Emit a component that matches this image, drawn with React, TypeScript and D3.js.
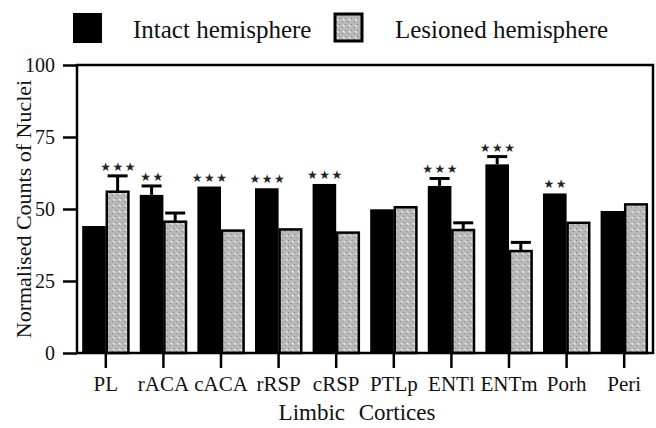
import React, { useEffect, useRef } from "react";
import * as d3 from "d3";

const categories = ["PL", "rACA", "cACA", "rRSP", "cRSP", "PTLp", "ENTl", "ENTm", "Porh", "Peri"];
const intact = [44.1, 54.9, 57.8, 57.2, 58.7, 49.9, 58.0, 65.5, 55.4, 49.3];
const lesioned = [56.0, 45.6, 42.5, 42.9, 41.8, 50.6, 42.7, 35.4, 45.2, 51.6];
const intactErr = [null, 3.1, null, null, null, null, 2.6, 2.7, null, null];
const lesionedErr = [5.5, 3.0, null, null, null, null, 2.5, 3.0, null, null];
const stars = ["***", "**", "***", "***", "***", "", "***", "***", "**", ""];
const yTicks = [0, 25, 50, 75, 100];

const W = 656;
const H = 428;
const LEFT = 77;
const RIGHT = 653;
const TOP = 65;
const BOTTOM = 353;
const FONT = "Liberation Serif";

const App = () => {
  const svgRef = useRef(null);

  useEffect(() => {
    const svg = d3.select(svgRef.current);
    svg.selectAll("*").remove();

    // hatch for the lesioned bars
    const pat = svg
      .append("defs")
      .append("pattern")
      .attr("id", "hatch")
      .attr("patternUnits", "userSpaceOnUse")
      .attr("width", 6)
      .attr("height", 6);
    pat.append("rect").attr("width", 6).attr("height", 6).attr("fill", "#b8b8b8");
    pat.append("rect").attr("x", 0).attr("y", 3).attr("width", 1).attr("height", 1).attr("fill", "#858585");
    pat.append("rect").attr("x", 3).attr("y", 0).attr("width", 1).attr("height", 1).attr("fill", "#858585");
    pat
      .append("path")
      .attr("d", "M1,1 L2.6,2.6")
      .attr("stroke", "#f6f6f6")
      .attr("stroke-width", 1.1);

    const x0 = d3
      .scaleBand()
      .domain(categories)
      .range([LEFT, RIGHT])
      .paddingInner(0.18)
      .paddingOuter(0.09);
    const x1 = d3.scaleBand().domain(["intact", "lesioned"]).range([0, x0.bandwidth()]);
    const y = d3.scaleLinear().domain([0, 100]).range([BOTTOM, TOP]);

    // y axis
    const ya = svg
      .append("g")
      .attr("transform", `translate(${LEFT},0)`)
      .call(d3.axisLeft(y).tickValues(yTicks).tickSize(14).tickPadding(8));
    ya.attr("font-family", FONT);
    ya.select(".domain").remove();
    ya.selectAll("line").attr("stroke", "#000").attr("stroke-width", 2.5);
    ya.selectAll("text").attr("font-family", FONT).attr("font-size", 20).attr("fill", "#111");

    // x axis
    const xa = svg
      .append("g")
      .attr("transform", `translate(0,${BOTTOM})`)
      .call(d3.axisBottom(x0).tickSize(15));
    xa.attr("font-family", FONT);
    xa.select(".domain").remove();
    xa.selectAll("line").attr("stroke", "#000").attr("stroke-width", 2.5);
    xa.selectAll("text")
      .attr("font-family", FONT)
      .attr("font-size", 21)
      .attr("fill", "#111")
      .attr("y", 38)
      .attr("dy", 0);

    const groups = svg
      .append("g")
      .selectAll("g")
      .data(categories)
      .join("g")
      .attr("transform", (d) => `translate(${x0(d)},0)`);

    groups
      .append("rect")
      .attr("x", x1("intact"))
      .attr("width", x1.bandwidth())
      .attr("y", (d, i) => y(intact[i]))
      .attr("height", (d, i) => BOTTOM - y(intact[i]))
      .attr("fill", "#000");

    groups
      .append("rect")
      .attr("x", x1("lesioned") + 1)
      .attr("width", x1.bandwidth() - 2)
      .attr("y", (d, i) => y(lesioned[i]))
      .attr("height", (d, i) => BOTTOM - y(lesioned[i]))
      .attr("fill", "url(#hatch)")
      .attr("stroke", "#000")
      .attr("stroke-width", 2.5);

    // error bars (upper half only)
    const drawErr = (vals, errs, key) => {
      groups.each(function (d, i) {
        if (errs[i] == null) return;
        const g = d3.select(this);
        const cx = x1(key) + x1.bandwidth() / 2;
        const top = y(vals[i] + errs[i]);
        g.append("line")
          .attr("x1", cx)
          .attr("x2", cx)
          .attr("y1", y(vals[i]))
          .attr("y2", top)
          .attr("stroke", "#000")
          .attr("stroke-width", 3);
        g.append("line")
          .attr("x1", cx - 10)
          .attr("x2", cx + 10)
          .attr("y1", top)
          .attr("y2", top)
          .attr("stroke", "#000")
          .attr("stroke-width", 3);
      });
    };
    drawErr(intact, intactErr, "intact");
    drawErr(lesioned, lesionedErr, "lesioned");

    // significance stars over the taller bar
    groups
      .append("text")
      .attr("x", (d, i) => {
        const key = intact[i] >= lesioned[i] ? "intact" : "lesioned";
        return x1(key) + x1.bandwidth() / 2 + 1;
      })
      .attr("y", (d, i) => {
        const a = intact[i] + (intactErr[i] || 0);
        const b = lesioned[i] + (lesionedErr[i] || 0);
        const v = intact[i] >= lesioned[i] ? a : b;
        return y(v) - 5;
      })
      .attr("text-anchor", "middle")
      .attr("font-family", "DejaVu Sans")
      .attr("font-size", 12)
      .attr("letter-spacing", 1.5)
      .attr("fill", "#222")
      .text((d, i) => stars[i].replace(/\*/g, "★"));

    // frame
    svg
      .append("rect")
      .attr("x", LEFT)
      .attr("y", TOP)
      .attr("width", RIGHT - LEFT)
      .attr("height", BOTTOM - TOP)
      .attr("fill", "none")
      .attr("stroke", "#000")
      .attr("stroke-width", 2.5);

    // axis titles
    svg
      .append("text")
      .attr("transform", `translate(31,${(TOP + BOTTOM) / 2}) rotate(-90)`)
      .attr("text-anchor", "middle")
      .attr("font-family", FONT)
      .attr("font-size", 22)
      .attr("fill", "#111")
      .text("Normalised Counts of Nuclei");

    svg
      .append("text")
      .attr("x", 357)
      .attr("y", 420)
      .attr("text-anchor", "middle")
      .attr("font-family", FONT)
      .attr("font-size", 23)
      .attr("word-spacing", 8)
      .attr("fill", "#111")
      .text("Limbic Cortices");

    // legend
    const legend = svg.append("g");
    legend.append("rect").attr("x", 73).attr("y", 13).attr("width", 29).attr("height", 30).attr("fill", "#000");
    legend
      .append("text")
      .attr("x", 133)
      .attr("y", 38)
      .attr("font-family", FONT)
      .attr("font-size", 25)
      .attr("fill", "#111")
      .text("Intact hemisphere");
    legend
      .append("rect")
      .attr("x", 335)
      .attr("y", 14)
      .attr("width", 27)
      .attr("height", 27)
      .attr("fill", "url(#hatch)")
      .attr("stroke", "#000")
      .attr("stroke-width", 3);
    legend
      .append("text")
      .attr("x", 395)
      .attr("y", 38)
      .attr("font-family", FONT)
      .attr("font-size", 25)
      .attr("fill", "#111")
      .text("Lesioned hemisphere");
  }, []);

  return (
    <svg
      ref={svgRef}
      width={W}
      height={H}
      style={{ position: "absolute", left: 0, top: 0, background: "#fff" }}
    ></svg>
  );
};

export default App;
